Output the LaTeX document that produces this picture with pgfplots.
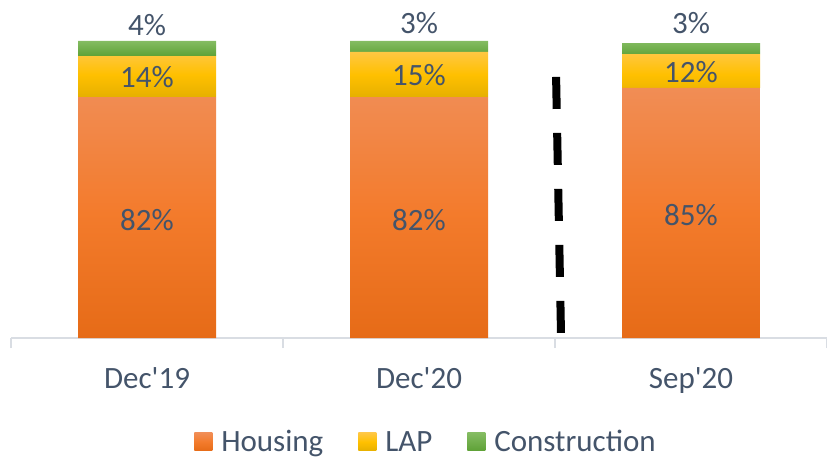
\documentclass[border=0pt]{standalone}
\usepackage{pgfplots}
\pgfplotsset{compat=1.18}
\usepackage{fontspec}
\setmainfont{Carlito}
\definecolor{txt}{HTML}{44546A}
\definecolor{axgray}{HTML}{D9DDE3}
\definecolor{orT}{HTML}{F18D55}
\definecolor{orM}{HTML}{F37B2C}
\definecolor{orB}{HTML}{E66B17}
\definecolor{yeT}{HTML}{FFC743}
\definecolor{yeM}{HTML}{FFC000}
\definecolor{yeB}{HTML}{E6B000}
\definecolor{grT}{HTML}{84BC62}
\definecolor{grB}{HTML}{5EA136}
\begin{document}
\begin{tikzpicture}
\begin{axis}[
  name=ax,
  scale only axis,
  width=816bp, height=297bp,
  xmin=-0.5, xmax=2.5, ymin=0, ymax=100,
  ybar stacked, bar width=138bp,
  clip=false,
  axis x line*=bottom,
  axis y line=none,
  x axis line style={color=axgray, line width=1.5bp},
  xtick={0,1,2},
  xticklabels={Dec\textquotesingle19,Dec\textquotesingle20,Sep\textquotesingle20},
  major x tick style={draw=none},
  minor xtick={-0.5,0.5,1.5,2.5},
  minor x tick style={color=axgray, line width=1.5bp},
  minor tick length=10bp,
  tick align=outside,
  xticklabel style={font=\fontsize{31bp}{36bp}\selectfont, text=txt, anchor=base, yshift=-46bp},
  legend style={draw=none, fill=none, at={(0.5086,-0.350)}, anchor=center,
    font=\fontsize{31bp}{36bp}\selectfont, text=txt,
    /tikz/every odd column/.append style={column sep=7bp},
    /tikz/every even column/.append style={column sep=33bp}},
  legend columns=-1,
  legend image code/.code={\path[#1] (0bp,-9bp) rectangle (18bp,9bp);},
]
\addplot[draw=none, top color=orT, bottom color=orB, middle color=orM] coordinates {(0,81.1) (1,81.1) (2,84.2)};
\addplot[draw=none, top color=yeT, bottom color=yeB, middle color=yeM] coordinates {(0,13.8) (1,15.2) (2,11.4)};
\addplot[draw=none, top color=grT, bottom color=grB] coordinates {(0,5.1) (1,3.7) (2,3.7)};
\legend{Housing, LAP, Construction}
\end{axis}
\begin{axis}[
  scale only axis, at={(ax.south west)}, anchor=south west,
  width=816bp, height=297bp,
  xmin=-0.5, xmax=2.5, ymin=0, ymax=100,
  clip=false, axis lines=none,
]
\addplot[black, line width=8bp, dash pattern=on 32bp off 24bp, line cap=butt] coordinates {(1.504,87.9) (1.522,1.7)};
\begin{scope}[every node/.style={font=\fontsize{31bp}{36bp}\selectfont, text=txt}]
\node at (axis cs:0,39.7) {82\%};
\node at (axis cs:1,39.7) {82\%};
\node at (axis cs:2,41.3) {85\%};
\node at (axis cs:0,87.8) {14\%};
\node at (axis cs:1,88.5) {15\%};
\node at (axis cs:2,89.7) {12\%};
\node at (axis cs:0,105.4) {4\%};
\node at (axis cs:1,106.0) {3\%};
\node at (axis cs:2,106.0) {3\%};
\end{scope}
\end{axis}
\pgfresetboundingbox
\path (ax.south west) ++(-11bp,-119bp) rectangle ++(827bp,457bp);
\end{tikzpicture}
\end{document}
